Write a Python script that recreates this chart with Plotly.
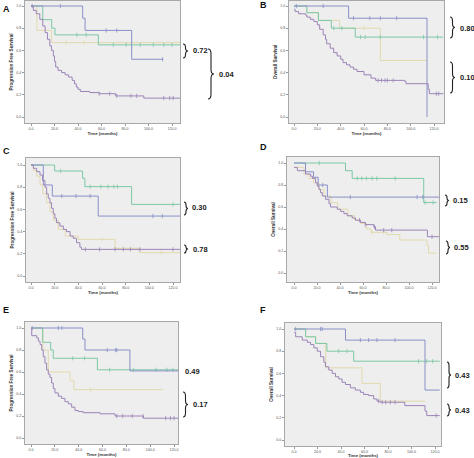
import numpy as np
import plotly.graph_objects as go

W, H = 474, 458

# ---------------- data (time in months, survival proportion) ----------------
# Panel A - Progression Free Survival
A_blue_t = [0, 44, 46, 85.7, 112.6]
A_blue_s = [1.0, 0.89, 0.78, 0.52, 0.52]
A_blue_c = [1, 25, 64, 73, 112]
A_green_t = [0, 10, 17.6, 20.4, 57.3, 127]
A_green_s = [1.0, 0.877, 0.80, 0.74, 0.65, 0.65]
A_green_c = [39, 47, 70, 81, 93, 104, 113, 120]
A_tan_t = [0, 5, 17.6, 127]
A_tan_s = [1.0, 0.78, 0.67, 0.67]
A_tan_c = [30, 45]
A_purple_t = [0, 2, 4.5, 7.5, 10, 12, 14, 16, 17.5, 19, 20, 21, 23, 26, 29, 32, 35, 37, 38.5, 40, 42, 50, 58, 72, 96, 127]
A_purple_s = [1.0, 0.96, 0.93, 0.88, 0.82, 0.76, 0.70, 0.64, 0.60, 0.55, 0.50, 0.45, 0.42, 0.40, 0.38, 0.36, 0.33, 0.30, 0.27, 0.25, 0.23, 0.22, 0.21, 0.19, 0.17, 0.17]
A_purple_c = [58, 67, 73, 85, 90, 113, 118, 121]

# Panel B - Overall Survival
B_blue_t = [0, 46.8, 114, 114]
B_blue_s = [1.0, 0.89, 0.0, 0.0]
B_blue_c = [2, 25, 51, 65, 74, 88]
B_green_t = [0, 11, 21, 32, 52.5, 128]
B_green_s = [1.0, 0.94, 0.87, 0.80, 0.72, 0.72]
B_green_c = [34, 41, 57, 61, 74, 111, 123]
B_tan_t = [0, 11, 20.7, 39, 74, 114]
B_tan_s = [1.0, 0.94, 0.87, 0.80, 0.51, 0.51]
B_tan_c = [60]
B_purple_t = [0, 1, 4, 10, 11, 14, 17, 20, 22, 25, 27, 28, 31, 34, 37, 40, 42, 45, 48, 51, 54, 60, 66, 70, 95, 96, 115, 116, 128]
B_purple_s = [0.97, 0.95, 0.93, 0.92, 0.90, 0.88, 0.86, 0.83, 0.79, 0.74, 0.70, 0.66, 0.62, 0.58, 0.55, 0.52, 0.49, 0.47, 0.45, 0.43, 0.41, 0.38, 0.35, 0.33, 0.32, 0.30, 0.25, 0.21, 0.21]
B_purple_c = [72, 75, 78, 80, 85, 122, 124]

# Panel C - Progression Free Survival
C_blue_t = [0, 10.4, 18, 56.8, 126]
C_blue_s = [1.0, 0.82, 0.72, 0.54, 0.54]
C_blue_c = [26, 38, 50, 103, 111]
C_green_t = [0, 20, 43.6, 45.5, 85, 126]
C_green_s = [1.0, 0.946, 0.88, 0.805, 0.645, 0.645]
C_green_c = [25, 50, 59, 65, 70, 73, 120]
C_tan_t = [0, 2, 4.8, 7.6, 10, 13, 16, 19, 23, 29, 40, 71, 92, 127]
C_tan_s = [1.0, 0.95, 0.90, 0.82, 0.74, 0.66, 0.58, 0.50, 0.42, 0.36, 0.33, 0.25, 0.21, 0.21]
C_tan_c = [60, 110]
C_purple_t = [0, 2, 4.8, 7.6, 9.8, 11.8, 13.2, 14.6, 16, 17.4, 18.8, 20.2, 21.6, 24.4, 27.3, 30, 33, 35.7, 38.5, 41.3, 42.7, 127]
C_purple_s = [1.0, 0.97, 0.94, 0.91, 0.86, 0.80, 0.74, 0.70, 0.66, 0.61, 0.56, 0.52, 0.48, 0.45, 0.42, 0.40, 0.36, 0.34, 0.30, 0.26, 0.24, 0.24]
C_purple_c = [46, 58, 71, 78, 84, 92, 120]

# Panel D - Overall Survival
D_blue_t = [0, 10, 17, 21, 29, 127]
D_blue_s = [1.0, 0.92, 0.87, 0.80, 0.69, 0.69]
D_blue_c = [25, 49, 107, 112]
D_green_t = [0, 44.8, 50.6, 112.8, 124]
D_green_s = [1.0, 0.93, 0.86, 0.64, 0.64]
D_green_c = [22, 55, 59, 63, 68, 72, 88, 114, 121]
D_tan_t = [0, 8.7, 13, 17, 21.7, 26, 32, 38, 46.8, 52.6, 58, 63, 67, 81, 92, 115.7, 117, 124]
D_tan_s = [0.96, 0.90, 0.86, 0.82, 0.76, 0.70, 0.64, 0.58, 0.52, 0.48, 0.45, 0.40, 0.37, 0.35, 0.30, 0.25, 0.18, 0.18]
D_tan_c = [68, 78]
D_purple_t = [0, 2.9, 10, 14.5, 16, 18.8, 20.2, 21.7, 23, 24.6, 27.5, 30.4, 31.8, 37.6, 40.5, 43.4, 46.3, 50.6, 53.5, 57.8, 62, 69.4, 70.9, 114.6, 116, 126]
D_purple_s = [0.96, 0.93, 0.90, 0.88, 0.86, 0.82, 0.79, 0.76, 0.73, 0.70, 0.67, 0.63, 0.60, 0.58, 0.56, 0.54, 0.52, 0.50, 0.48, 0.46, 0.44, 0.42, 0.39, 0.39, 0.33, 0.33]
D_purple_c = [57, 62, 70, 78, 85, 120]

# Panel E - Progression Free Survival
E_blue_t = [0, 43.4, 45.3, 83, 125]
E_blue_s = [1.0, 0.90, 0.80, 0.61, 0.61]
E_blue_c = [1, 23, 26, 64, 71, 72]
E_green_t = [0, 9.8, 16.5, 18.7, 55.7, 125]
E_green_s = [1.0, 0.87, 0.80, 0.725, 0.62, 0.62]
E_green_c = [35, 45, 66, 86, 105, 114, 119]
E_tan_t = [0, 10, 14.5, 32.7, 36, 111]
E_tan_s = [1.0, 0.80, 0.60, 0.52, 0.44, 0.44]
E_tan_c = [50]
E_purple_t = [0, 0.6, 4.8, 6.2, 7.6, 9, 10.3, 11.7, 13.1, 14.5, 15.9, 17.3, 18.7, 20.1, 22.9, 25.7, 28.5, 31.3, 34.1, 36.9, 39.7, 43.9, 57.9, 70.5, 94.3, 125]
E_purple_s = [1.0, 0.93, 0.91, 0.88, 0.85, 0.80, 0.74, 0.68, 0.62, 0.58, 0.55, 0.50, 0.45, 0.41, 0.38, 0.36, 0.33, 0.31, 0.28, 0.25, 0.24, 0.23, 0.22, 0.20, 0.18, 0.18]
E_purple_c = [72, 77, 85, 94, 113, 117, 120]

# Panel F - Overall Survival
F_blue_t = [0, 43.8, 111.5, 124]
F_blue_s = [1.0, 0.90, 0.45, 0.45]
F_blue_c = [1.4, 22.6, 24, 56.5, 63.5, 70.6, 86]
F_green_t = [0, 9.9, 18.4, 28, 50.8, 124]
F_green_s = [1.0, 0.93, 0.87, 0.80, 0.71, 0.71]
F_green_c = [38, 45, 106, 113, 118]
F_tan_t = [0, 9.9, 18.4, 27, 57.9, 73.4, 111.5]
F_tan_s = [1.0, 0.93, 0.87, 0.65, 0.51, 0.35, 0.35]
F_tan_c = []
F_purple_t = [0, 1.4, 7, 11.3, 14.1, 16.9, 19.8, 22.6, 25.4, 26.8, 29.6, 32.5, 35.3, 38.1, 40.9, 43.8, 48, 52.2, 56.5, 59.3, 63.5, 67.8, 70.6, 73.4, 94.3, 111.5, 113, 124]
F_purple_s = [0.97, 0.93, 0.90, 0.88, 0.86, 0.83, 0.80, 0.75, 0.70, 0.66, 0.63, 0.60, 0.57, 0.55, 0.52, 0.50, 0.47, 0.45, 0.43, 0.41, 0.40, 0.37, 0.35, 0.34, 0.31, 0.26, 0.22, 0.22]
F_purple_c = [72, 75, 78, 82, 86, 121]

x_ticks = [0, 20, 40, 60, 80, 100, 120]
x_tick_text = ["0.0", "20.0", "40.0", "60.0", "80.0", "100.0", "120.0"]
y_ticks = [0, 0.2, 0.4, 0.6, 0.8, 1.0]
y_tick_text = ["0.0", "0.2", "0.4", "0.6", "0.8", "1.0"]

# ---------------- styling / layout ----------------
BLUE = "#8890c8"
GREEN = "#7cc8a4"
TAN = "#e2d9ac"
PURPLE = "#9c84b8"

panels = {
    "A": dict(frame=(25, 180, 1, 123), x0=31, x120=172, y1=6, y0=117, ytitle="Progression Free Survival",
              series=[(A_tan_t, A_tan_s, A_tan_c, TAN), (A_green_t, A_green_s, A_green_c, GREEN),
                      (A_blue_t, A_blue_s, A_blue_c, BLUE), (A_purple_t, A_purple_s, A_purple_c, PURPLE)]),
    "B": dict(frame=(289, 444, 1, 123), x0=294, x120=434, y1=6, y0=117, ytitle="Overall Survival",
              series=[(B_tan_t, B_tan_s, B_tan_c, TAN), (B_green_t, B_green_s, B_green_c, GREEN),
                      (B_blue_t, B_blue_s, B_blue_c, BLUE), (B_purple_t, B_purple_s, B_purple_c, PURPLE)]),
    "C": dict(frame=(26, 180, 158, 282), x0=31, x120=173, y1=165, y0=276, ytitle="Progression Free Survival",
              series=[(C_tan_t, C_tan_s, C_tan_c, TAN), (C_green_t, C_green_s, C_green_c, GREEN),
                      (C_blue_t, C_blue_s, C_blue_c, BLUE), (C_purple_t, C_purple_s, C_purple_c, PURPLE)]),
    "D": dict(frame=(287, 439, 157, 282), x0=294, x120=432, y1=163, y0=273, ytitle="Overall Survival",
              series=[(D_tan_t, D_tan_s, D_tan_c, TAN), (D_green_t, D_green_s, D_green_c, GREEN),
                      (D_blue_t, D_blue_s, D_blue_c, BLUE), (D_purple_t, D_purple_s, D_purple_c, PURPLE)]),
    "E": dict(frame=(25, 178, 322, 444), x0=31, x120=174, y1=328, y0=438, ytitle="Progression Free Survival",
              series=[(E_tan_t, E_tan_s, E_tan_c, TAN), (E_green_t, E_green_s, E_green_c, GREEN),
                      (E_blue_t, E_blue_s, E_blue_c, BLUE), (E_purple_t, E_purple_s, E_purple_c, PURPLE)]),
    "F": dict(frame=(285, 441, 323, 446), x0=294, x120=435, y1=329, y0=440, ytitle="Overall Survival",
              series=[(F_tan_t, F_tan_s, F_tan_c, TAN), (F_green_t, F_green_s, F_green_c, GREEN),
                      (F_blue_t, F_blue_s, F_blue_c, BLUE), (F_purple_t, F_purple_s, F_purple_c, PURPLE)]),
}


def step_value(ts, ss, t):
    idx = np.searchsorted(np.asarray(ts), t, side="right") - 1
    idx = max(0, min(idx, len(ss) - 1))
    return ss[idx]


fig = go.Figure()
layout = dict(
    width=W, height=H, margin=dict(l=0, r=0, t=0, b=0),
    paper_bgcolor="white", plot_bgcolor="#eeeeee", showlegend=False,
    font=dict(family="Liberation Sans, Arial, sans-serif", color="#333"),
)
annotations = []
shapes = []

FONT_AX = dict(size=3.6, color="#555", family="Liberation Sans, Arial")
for i, (name, p) in enumerate(panels.items(), start=1):
    l, r, t, b = p["frame"]
    kx = (p["x120"] - p["x0"]) / 120.0
    ky = (p["y0"] - p["y1"]) / 1.0
    xr = [(l - p["x0"]) / kx, (r - p["x0"]) / kx]
    yr = [(p["y0"] - b) / ky, (p["y0"] - t) / ky]
    xa = "x" if i == 1 else f"x{i}"
    ya = "y" if i == 1 else f"y{i}"
    layout["xaxis" if i == 1 else f"xaxis{i}"] = dict(
        domain=[l / W, r / W], anchor=ya, range=xr, showgrid=False, zeroline=False,
        showline=True, mirror=True, linecolor="#a8a8a8", linewidth=1,
        ticks="outside", ticklen=2, tickcolor="#999", tickwidth=0.6,
        tickvals=x_ticks, ticktext=x_tick_text, tickfont=FONT_AX,
        title=dict(text="<b>Time (months)</b>", font=dict(size=4.4, color="#333"), standoff=1),
    )
    layout["yaxis" if i == 1 else f"yaxis{i}"] = dict(
        domain=[1 - b / H, 1 - t / H], anchor=xa, range=yr, showgrid=False, zeroline=False,
        showline=True, mirror=True, linecolor="#a8a8a8", linewidth=1,
        ticks="outside", ticklen=2, tickcolor="#999", tickwidth=0.6,
        tickvals=y_ticks, ticktext=y_tick_text, tickfont=FONT_AX,
        title=dict(text=f"<b>{p['ytitle']}</b>", font=dict(size=4.6, color="#333"), standoff=2),
    )
    for ts, ss, cs, col in p["series"]:
        fig.add_trace(go.Scatter(x=ts, y=ss, mode="lines", line=dict(color=col, width=1, shape="hv"),
                                 xaxis=xa, yaxis=ya, hoverinfo="skip"))
        if cs:
            cy = [step_value(ts, ss, c) for c in cs]
            fig.add_trace(go.Scatter(x=cs, y=cy, mode="markers",
                                     marker=dict(symbol="line-ns", size=3, line=dict(color=col, width=0.8)),
                                     xaxis=xa, yaxis=ya, hoverinfo="skip"))

# panel letters
letters = [("A", 1, 9), ("B", 258, 5), ("C", 1, 151), ("D", 258, 147), ("E", 1, 310), ("F", 258, 310)]
for txt, x, y in letters:
    annotations.append(dict(text=f"<b>{txt}</b>", x=x / W, y=1 - y / H, xref="paper", yref="paper",
                            xanchor="left", yanchor="middle", showarrow=False,
                            font=dict(size=9, color="#111", family="Liberation Sans, Arial")))


def brace(x, y1, y2, w):
    X = lambda v: v / W
    Y = lambda v: 1 - v / H
    mid = (y1 + y2) / 2.0
    rr = min(w * 0.8, (y2 - y1) / 4.0)
    xm = x + w / 2.0
    path = (f"M {X(x)},{Y(y1)} Q {X(xm)},{Y(y1)} {X(xm)},{Y(y1 + rr)} "
            f"L {X(xm)},{Y(mid - rr)} Q {X(xm)},{Y(mid)} {X(x + w)},{Y(mid)} "
            f"Q {X(xm)},{Y(mid)} {X(xm)},{Y(mid + rr)} "
            f"L {X(xm)},{Y(y2 - rr)} Q {X(xm)},{Y(y2)} {X(x)},{Y(y2)}")
    return dict(type="path", path=path, xref="paper", yref="paper",
                line=dict(color="#222", width=1.1))


p_labels = [
    # (text, brace x, y top, y bottom, brace width, text x, text y)
    ("0.72", 183, 44, 58, 5, 191, 51),
    ("0.04", 208, 49, 99, 6, 217, 74),
    ("0.80", 450, 17, 38, 5, 458, 28),
    ("0.10", 450, 62, 93, 5, 458, 77),
    ("0.30", 184, 202, 215, 4, 190, 208),
    ("0.78", 184, 245, 253, 4, 191, 249),
    ("0.15", 445, 195, 206, 4, 451, 200),
    ("0.55", 446, 241, 254, 4, 452, 247),
    ("0.49", None, None, None, None, 183, 371),
    ("0.17", 183, 392, 417, 5, 191, 404),
    ("0.43", 447, 362, 388, 4, 453, 375),
    ("0.43", 447, 404, 416, 4, 453, 410),
]
for txt, bx, byt, byb, bw, tx, ty in p_labels:
    if bx is not None:
        shapes.append(brace(bx, byt, byb, bw))
    annotations.append(dict(text=f"<b>{txt}</b>", x=tx / W, y=1 - ty / H, xref="paper", yref="paper",
                            xanchor="left", yanchor="middle", showarrow=False,
                            font=dict(size=7.5, color="#222", family="Liberation Sans, Arial")))

layout["annotations"] = annotations
layout["shapes"] = shapes
fig.update_layout(**layout)
fig.write_html("out.html", config={"displayModeBar": False},
               post_script="document.body.style.margin='0';document.body.style.overflow='hidden';")
